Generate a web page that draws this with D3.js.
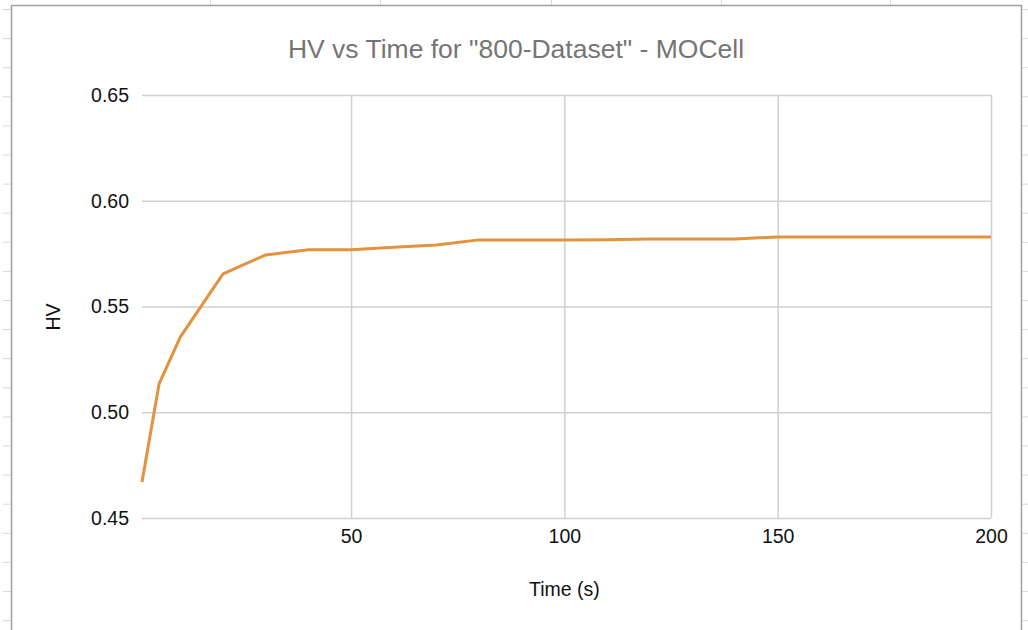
<!DOCTYPE html>
<html>
<head>
<meta charset="utf-8">
<script src="https://cdn.jsdelivr.net/npm/d3@7"></script>
<style>
  body { margin: 0; background: #fff; }
  svg { display: block; font-family: "Liberation Sans", Arial, sans-serif; }
</style>
</head>
<body>
<svg id="drawing_region"></svg>
<script>
// data
const times = [1, 5, 10, 20, 30, 40, 50, 60, 70, 80, 90, 100, 110, 120, 130, 140, 150, 160, 170, 180, 190, 200];
const hv = [0.4670, 0.5134, 0.5356, 0.5654, 0.5744, 0.5768, 0.5768, 0.5780, 0.5791, 0.5815, 0.5815, 0.5815,
            0.5816, 0.5819, 0.5819, 0.5819, 0.5829, 0.5829, 0.5829, 0.5829, 0.5829, 0.5829];
const xTicks = [50, 100, 150, 200];
const yTicks = [0.45, 0.50, 0.55, 0.60, 0.65];

const chartTitle = 'HV vs Time for "800-Dataset" - MOCell';
const xTitle = 'Time (s)';
const yTitle = 'HV';

const data = times.map((t, i) => ({ x: t, y: hv[i] }));

const width = 1028, height = 630;
const margin = { top: 95, right: 37, bottom: 112, left: 142 };

const svg = d3.select('#drawing_region')
    .attr('width', width)
    .attr('height', height);

// spreadsheet behind the chart
const bg = svg.append('g').attr('stroke', '#dadada').attr('stroke-width', 1);
d3.range(0, 22).forEach(k => {
    const y = 9.5 + k * 29.1;
    bg.append('line').attr('x1', 3).attr('x2', 11).attr('y1', y).attr('y2', y);
    bg.append('line').attr('x1', 1022).attr('x2', 1028).attr('y1', y).attr('y2', y);
});
[210, 380, 551, 721, 890].forEach(x => {
    bg.append('line').attr('x1', x + 0.5).attr('x2', x + 0.5).attr('y1', 0).attr('y2', 5);
});

// chart frame
svg.append('rect')
    .attr('x', 11.5).attr('y', 5.5)
    .attr('width', 1010).attr('height', 640)
    .attr('fill', '#fff')
    .attr('stroke', '#a0a0a0')
    .attr('stroke-width', 1.5);

const inner_width = width - margin.left - margin.right;
const inner_height = height - margin.top - margin.bottom;

const chart = svg.append('g')
    .attr('transform', `translate(${margin.left}, ${margin.top})`);

const xscale = d3.scaleLinear()
    .domain([1, 200])
    .range([0, inner_width]);

const yscale = d3.scaleLinear()
    .domain([0.45, 0.65])
    .range([inner_height, 0]);

// horizontal grid + y labels
const yaxis = d3.axisLeft(yscale)
    .tickValues(yTicks)
    .tickSize(-inner_width)
    .tickPadding(13)
    .tickFormat(d3.format('.2f'));

const yaxis_group = chart.append('g').call(yaxis);
yaxis_group.select('.domain').remove();
yaxis_group.selectAll('line').attr('stroke', '#d0d0d0').attr('stroke-width', 1.5);
yaxis_group.selectAll('text')
    .attr('fill', '#111')
    .attr('font-size', 19.5);

// vertical grid + x labels
const xaxis = d3.axisBottom(xscale)
    .tickValues(xTicks)
    .tickSize(-inner_height)
    .tickPadding(11);

const xaxis_group = chart.append('g')
    .attr('transform', `translate(0, ${inner_height})`)
    .call(xaxis);
xaxis_group.select('.domain').remove();
xaxis_group.selectAll('line').attr('stroke', '#d0d0d0').attr('stroke-width', 1.5);
xaxis_group.selectAll('text')
    .attr('fill', '#111')
    .attr('font-size', 19.5);

// the series
const line = d3.line()
    .x(d => xscale(d.x))
    .y(d => yscale(d.y));

chart.append('path')
    .datum(data)
    .attr('d', line)
    .attr('fill', 'none')
    .attr('stroke', '#e3923e')
    .attr('stroke-width', 3)
    .attr('stroke-linejoin', 'round');

// titles
svg.append('text')
    .attr('x', 516)
    .attr('y', 58)
    .attr('text-anchor', 'middle')
    .attr('font-size', 26.5)
    .attr('fill', '#757575')
    .text(chartTitle);

svg.append('text')
    .attr('x', xscale(100) + margin.left)
    .attr('y', 596)
    .attr('text-anchor', 'middle')
    .attr('font-size', 19.5)
    .attr('fill', '#111')
    .text(xTitle);

svg.append('text')
    .attr('transform', `translate(60, ${margin.top + yscale(0.545)}) rotate(-90)`)
    .attr('text-anchor', 'middle')
    .attr('font-size', 19.5)
    .attr('fill', '#111')
    .text(yTitle);
</script>
</body>
</html>
